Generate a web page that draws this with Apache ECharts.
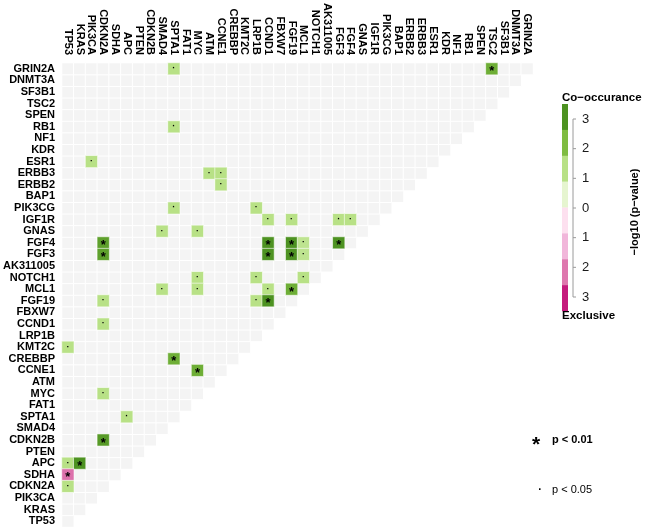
<!DOCTYPE html>
<html>
<head>
<meta charset="utf-8">
<script src="https://cdn.jsdelivr.net/npm/echarts@6/dist/echarts.min.js"></script>
<style>html,body{margin:0;padding:0;background:#fff}#c{width:649px;height:528px}</style>
</head>
<body>
<div id="c"></div>
<script>
// Gene order (columns left->right, rows bottom->top)
const genes = ['TP53','KRAS','PIK3CA','CDKN2A','SDHA','APC','PTEN','CDKN2B','SMAD4','SPTA1',
  'FAT1','MYC','ATM','CCNE1','CREBBP','KMT2C','LRP1B','CCND1','FBXW7','FGF19',
  'MCL1','NOTCH1','AK311005','FGF3','FGF4','GNAS','IGF1R','PIK3CG','BAP1','ERBB2',
  'ERBB3','ESR1','KDR','NF1','RB1','SPEN','TSC2','SF3B1','DNMT3A','GRIN2A'];

// Significant pairs: row gene, column gene, signed -log10(p) (+ co-occurrence, - exclusive), significance (2: p<0.01, 1: p<0.05)
const pairRowGene = ['GRIN2A','GRIN2A','RB1','ESR1','ERBB3','ERBB3','ERBB2','PIK3CG','PIK3CG',
  'IGF1R','IGF1R','IGF1R','IGF1R','GNAS','GNAS',
  'FGF4','FGF4','FGF4','FGF4','FGF4','FGF3','FGF3','FGF3','FGF3',
  'NOTCH1','NOTCH1','NOTCH1','MCL1','MCL1','MCL1','MCL1','FGF19','FGF19','FGF19',
  'CCND1','KMT2C','CREBBP','CCNE1','MYC','SPTA1','CDKN2B','APC','APC','SDHA','CDKN2A'];
const pairColGene = ['SPTA1','TSC2','SPTA1','PIK3CA','ATM','CCNE1','CCNE1','SPTA1','LRP1B',
  'CCND1','FGF19','FGF3','FGF4','SMAD4','MYC',
  'CDKN2A','CCND1','FGF19','MCL1','FGF3','CDKN2A','CCND1','FGF19','MCL1',
  'MYC','LRP1B','MCL1','SMAD4','MYC','CCND1','FGF19','CDKN2A','LRP1B','CCND1',
  'CDKN2A','TP53','SPTA1','MYC','CDKN2A','APC','CDKN2A','TP53','KRAS','TP53','TP53'];
const pairLogP = [1.5,2.5,1.5,1.5,1.5,1.5,1.5,1.5,1.5,
  1.5,1.5,1.5,1.5,1.5,1.5,
  2.75,3,3,1.4,3,2.75,3,3,1.4,
  1.5,1.5,1.5,1.5,1.5,1.5,2.5,1.5,1.5,3,
  1.5,1.5,2.5,2.5,1.5,1.5,2.85,1.5,3,-2.3,1.5];
const pairSig = [1,2,1,1,1,1,1,1,1,
  1,1,1,1,1,1,
  2,2,2,1,2,2,2,2,1,
  1,1,1,1,1,1,2,1,1,2,
  1,1,2,2,1,1,2,1,2,2,1];

// Legend tick labels (top to bottom)
const legendTicks = ['3','2','1','0','1','2','3'];

const FONT = "'Liberation Sans', Arial, sans-serif";

const bgData = [];
for (let i = 0; i < genes.length; i++) {
  for (let j = 0; j <= i; j++) bgData.push([j, i, 0]);
}
const sigData = pairRowGene.map((r, k) => [
  genes.indexOf(pairColGene[k]), genes.indexOf(r), pairLogP[k], pairSig[k]
]);

const chart = echarts.init(document.getElementById('c'), null, {renderer: 'canvas'});

const bandColors = ['#4D9221','#7FBC41','#B8E186','#E6F5D0','#FDE0EF','#F1B6DA','#DE77AE','#C51B7D'];
const barTop = 104, barBot = 311, barX = 562, barW = 6;
const bandH = (barBot - barTop) / bandColors.length;
const graphics = [];
bandColors.forEach((c, i) => {
  graphics.push({type: 'rect', shape: {x: barX, y: barTop + i * bandH, width: barW, height: bandH + 0.3},
    style: {fill: c}, silent: true});
});
const tickTop = 119, tickBot = 297;
const axX = 573;
graphics.push({type: 'line', shape: {x1: axX, y1: tickTop, x2: axX, y2: tickBot},
  style: {stroke: '#9a9a9a', lineWidth: 1}, silent: true});
legendTicks.forEach((t, i) => {
  const y = tickTop + i * (tickBot - tickTop) / (legendTicks.length - 1);
  graphics.push({type: 'line', shape: {x1: axX, y1: y, x2: axX + 3, y2: y},
    style: {stroke: '#9a9a9a', lineWidth: 1}, silent: true});
  graphics.push({type: 'text', x: 582, y: y, style: {text: t, font: '13px ' + FONT, fill: '#1a1a1a',
    textVerticalAlign: 'middle', verticalAlign: 'middle'}, silent: true});
});
graphics.push({type: 'text', x: 562, y: 98, style: {text: 'Co\u2212occurance', font: 'bold 11.5px ' + FONT,
  fill: '#000', verticalAlign: 'middle', textVerticalAlign: 'middle'}, silent: true});
graphics.push({type: 'text', x: 562, y: 316, style: {text: 'Exclusive', font: 'bold 11.5px ' + FONT,
  fill: '#000', verticalAlign: 'middle', textVerticalAlign: 'middle'}, silent: true});
graphics.push({type: 'text', x: 635, y: 212, rotation: Math.PI / 2,
  style: {text: '\u2212log10 (p\u2212value)', font: 'bold 11px ' + FONT, fill: '#000',
    align: 'center', verticalAlign: 'middle', textAlign: 'center', textVerticalAlign: 'middle'}, silent: true});
graphics.push({type: 'text', x: 536, y: 445, style: {text: '*', font: 'bold 21px ' + FONT, fill: '#000',
  align: 'center', verticalAlign: 'middle', textAlign: 'center', textVerticalAlign: 'middle'}, silent: true});
graphics.push({type: 'text', x: 552, y: 440, style: {text: 'p < 0.01', font: 'bold 11px ' + FONT, fill: '#000',
  verticalAlign: 'middle', textVerticalAlign: 'middle'}, silent: true});
graphics.push({type: 'text', x: 540, y: 490, style: {text: '\u00B7', font: 'bold 11px ' + FONT, fill: '#000',
  align: 'center', verticalAlign: 'middle', textAlign: 'center', textVerticalAlign: 'middle'}, silent: true});
graphics.push({type: 'text', x: 552, y: 490, style: {text: 'p < 0.05', font: '11px ' + FONT, fill: '#000',
  verticalAlign: 'middle', textVerticalAlign: 'middle'}, silent: true});

chart.setOption({
  animation: false,
  backgroundColor: '#fff',
  grid: {left: 62, top: 63, width: 471, height: 464, containLabel: false},
  xAxis: {
    type: 'category', data: genes, position: 'top',
    axisLine: {show: false}, axisTick: {show: false}, splitLine: {show: false},
    axisLabel: {interval: 0, rotate: 90, margin: 8, fontSize: 11, fontWeight: 'bold',
      fontFamily: FONT, color: '#000'}
  },
  yAxis: {
    type: 'category', data: genes,
    axisLine: {show: false}, axisTick: {show: false}, splitLine: {show: false},
    axisLabel: {interval: 0, margin: 7, fontSize: 11, fontWeight: 'bold',
      fontFamily: FONT, color: '#000'}
  },
  visualMap: {
    show: false, type: 'continuous', seriesIndex: 1, dimension: 2, min: -3, max: 3,
    inRange: {color: ['#C51B7D','#DE77AE','#F1B6DA','#FDE0EF','#F7F7F7','#E6F5D0','#B8E186','#7FBC41','#4D9221']}
  },
  graphic: graphics,
  series: [
    {
      type: 'heatmap', data: bgData, silent: true,
      itemStyle: {color: '#F4F4F4', borderColor: '#ffffff', borderWidth: 1},
      emphasis: {disabled: true}
    },
    {
      type: 'heatmap', data: sigData, silent: true,
      itemStyle: {borderColor: 'rgba(255,255,255,0.55)', borderWidth: 1},
      emphasis: {disabled: true},
      label: {
        show: true,
        formatter: p => p.data[3] === 2 ? '{s|*}' : '{d|\u00B7}',
        rich: {
          s: {fontSize: 13, fontWeight: 'bold', fontFamily: FONT, color: '#000', padding: [6, 0, 0, 0]},
          d: {fontSize: 9, fontWeight: 'bold', fontFamily: FONT, color: '#000'}
        }
      }
    }
  ]
});
</script>
</body>
</html>
